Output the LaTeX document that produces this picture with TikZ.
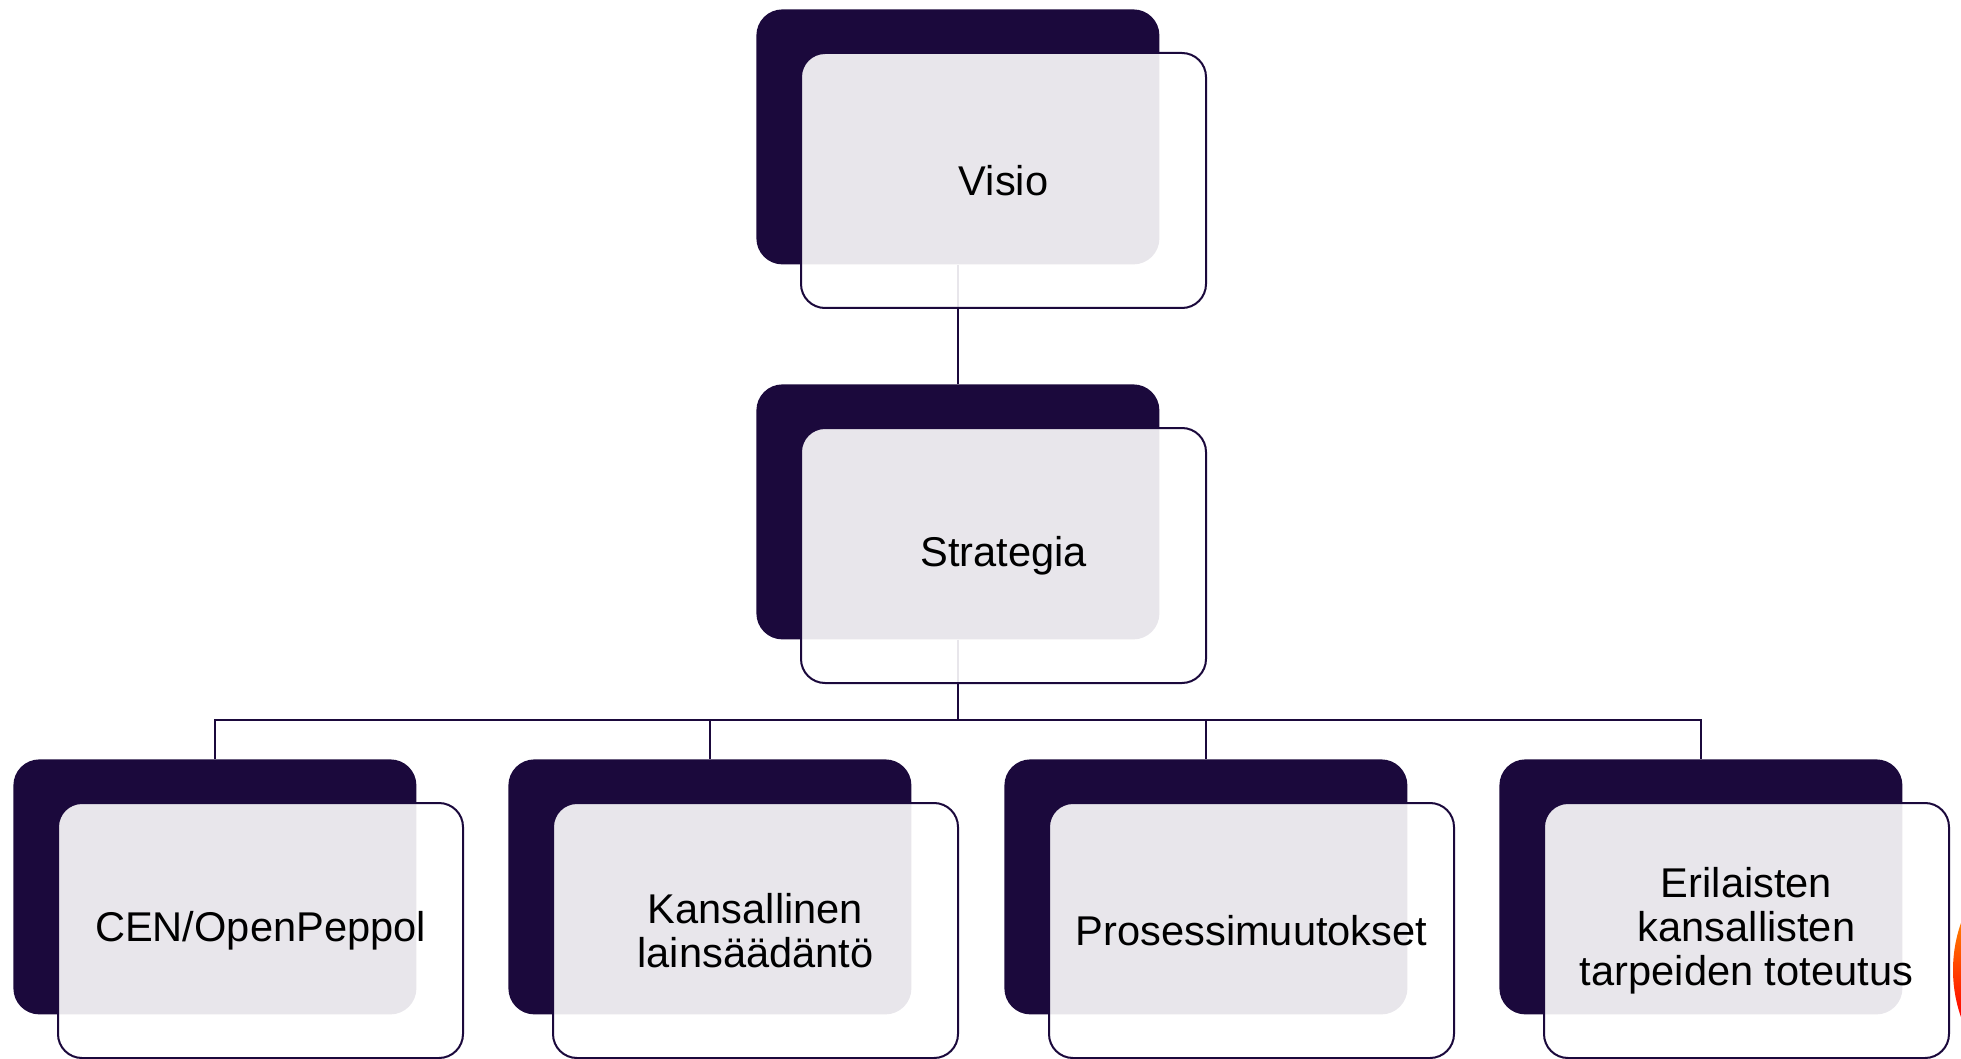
\documentclass[tikz,border=0pt]{standalone}
\usepackage{fontspec}
\setmainfont{Liberation Sans}
\usetikzlibrary{positioning}

\definecolor{deepnavy}{RGB}{27,9,60}

\tikzset{
  back/.style={rectangle, rounded corners=13pt, fill=deepnavy, draw=none,
    minimum width=201.5pt, minimum height=127.5pt, inner sep=0pt, anchor=north west},
  front/.style={rectangle, rounded corners=12pt, draw=deepnavy, line width=1pt,
    fill=white, fill opacity=0.9, text opacity=1, text=black, align=center,
    minimum width=202.5pt, minimum height=127.5pt, inner sep=0pt, anchor=north west,
    font=\fontsize{20.8}{22}\selectfont},
  link/.style={draw=deepnavy, line width=1.15pt}
}

\begin{document}
\begin{tikzpicture}[x=0.5pt,y=-0.5pt]
    \useasboundingbox (0,0) rectangle (1961,1059);
    % dark back cards
    \node[back] (vd) at (756,9) {};
    \node[back] (sd) at (756,384) {};
    \node[back] (c1d) at (13,759) {};
    \node[back] (c2d) at (508,759) {};
    \node[back] (c3d) at (1004,759) {};
    \node[back] (c4d) at (1499,759) {};
    % connectors
    \coordinate (bus) at (0,720);
    \draw[link] (vd.south) -- (sd.north);
    \foreach \c in {c1d,c2d,c3d,c4d}{\draw[link] (sd.south) -- (sd.south |- bus) -| (\c.north);}
    % front cards
    \node[front] (vf) at ([shift={(44,43)}]vd.north west) {Visio};
    \node[front] (sf) at ([shift={(44,43)}]sd.north west) {Strategia};
    \node[front] (c1f) at ([shift={(44,43)}]c1d.north west) {CEN/OpenPeppol};
    \node[front] (c2f) at ([shift={(44,43)}]c2d.north west) {Kansallinen\\lainsäädäntö};
    \node[front] (c3f) at ([shift={(44,43)}]c3d.north west) {Prosessimuutokset};
    \node[front] (c4f) at ([shift={(44,43)}]c4d.north west) {Erilaisten\\kansallisten\\tarpeiden toteutus};
    % cut-off disc at the right edge
    \begin{scope}
        \clip (0,0) rectangle (1961,1059);
        \clip (2095,970) circle[radius=142];
        \shade[top color=orange, bottom color=red] (1940,920) rectangle (1970,1020);
    \end{scope}
\end{tikzpicture}
\end{document}
